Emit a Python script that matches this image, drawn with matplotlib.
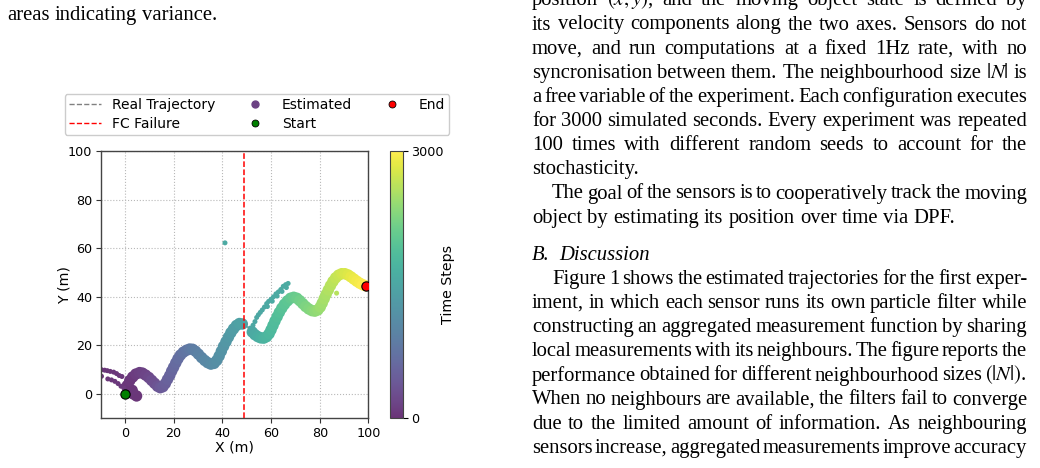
import numpy as np
import matplotlib
matplotlib.use("Agg")
import matplotlib.pyplot as plt
from matplotlib.colors import ListedColormap, Normalize
from matplotlib.lines import Line2D

# ---------------- data ----------------
# main estimated band: time step, x, y
est_t = [15, 20, 25, 35, 40, 30, 50, 70, 95, 120, 150, 180, 220, 260, 300, 350, 400, 440, 480,
         510, 540, 570, 600, 630, 660, 700, 740, 780, 820, 860, 900, 940, 980, 1020, 1050,
         1080, 1110, 1140, 1170, 1200, 1230, 1260, 1290, 1320, 1350, 1380, 1410, 1440,
         1530, 1570, 1610, 1650, 1690, 1730, 1760, 1790, 1820, 1850, 1880, 1910, 1940, 1970,
         2000, 2040, 2080, 2120, 2160, 2200, 2240, 2280, 2320, 2360, 2400, 2440, 2470, 2500,
         2530, 2560, 2590, 2620, 2650, 2690, 2730, 2770, 2810, 2850, 2890, 2920, 2950, 2980, 3000]
est_x = [1.5, 2.5, 3.5, 4.8, 3.0, 1.0, 2.0, 3.2, 4.5, 6.0, 7.2, 8.5, 9.8, 11.0, 12.2, 13.4, 14.5, 15.6, 16.6,
         17.5, 18.4, 19.2, 20.0, 20.9, 21.8, 22.8, 24.0, 25.3, 26.6, 27.8, 29.0, 30.2, 31.5, 32.8, 34.0,
         35.3, 36.6, 37.7, 38.7, 39.6, 40.5, 41.5, 42.5, 43.5, 44.6, 45.8, 47.0, 48.2,
         52.3, 53.4, 54.6, 55.8, 57.0, 58.2, 59.2, 60.0, 60.8, 61.6, 62.5, 63.4, 64.4, 65.5,
         66.7, 68.0, 69.3, 70.6, 71.8, 73.0, 74.2, 75.5, 76.8, 78.0, 79.2, 80.2, 81.0, 81.8,
         82.6, 83.5, 84.4, 85.4, 86.5, 87.7, 89.0, 90.3, 91.6, 92.8, 94.0, 95.2, 96.4, 97.6, 98.6]
est_y = [2.0, 0.8, 0.0, -0.8, 1.5, 3.5, 5.5, 7.0, 8.2, 8.8, 8.6, 7.8, 6.8, 5.6, 4.4, 3.2, 2.6, 3.0, 4.3,
         6.0, 7.6, 9.4, 11.0, 12.8, 14.5, 16.0, 17.2, 18.0, 18.5, 18.4, 17.6, 16.4, 15.0, 13.8, 12.9,
         12.3, 12.6, 13.8, 15.6, 17.6, 19.6, 21.5, 23.4, 25.2, 26.8, 28.2, 29.0, 28.8,
         25.5, 24.4, 23.6, 23.1, 23.0, 23.6, 24.8, 26.4, 28.2, 30.0, 31.8, 33.6, 35.3, 36.9,
         38.3, 39.4, 39.8, 39.4, 38.4, 37.2, 36.0, 35.0, 34.3, 34.1, 34.6, 35.8, 37.4, 39.2,
         41.0, 42.8, 44.6, 46.3, 47.8, 48.9, 49.5, 49.5, 49.0, 48.2, 47.3, 46.4, 45.6, 45.0, 44.6]

# sparse estimates (outliers / diverging sensors)
out_t = [20, 25, 30, 35, 40, 45, 50, 55,
         20, 30, 40, 50, 60, 70, 80,
         1500, 1505, 1510, 1515, 1520, 1525, 1530, 1535, 1540, 1545, 1550, 1555, 1560,
         1565, 1570, 1575, 1580, 1585, 1540, 1550, 1560, 1570, 1580,
         1550, 2600]
out_x = [-9.6, -8.3, -7.2, -6.0, -4.6, -3.4, -2.3, -1.2,
         -9.6, -7.0, -5.5, -4.1, -2.8, -1.6, -0.4,
         51.4, 52.6, 53.4, 54.1, 54.8, 55.6, 56.4, 57.3, 58.2, 59.0, 60.0, 61.0, 62.0,
         63.0, 64.0, 65.0, 66.0, 67.0, 58.5, 60.5, 62.5, 64.5, 66.3,
         41.1, 86.9]
out_y = [10.0, 9.8, 9.6, 9.3, 9.0, 8.4, 7.6, 7.2,
         7.3, 6.2, 5.8, 5.2, 4.3, 3.2, 2.4,
         27.1, 28.3, 29.8, 31.5, 32.6, 33.6, 34.6, 35.8, 37.2, 38.1, 39.0, 40.0, 41.2,
         42.0, 43.0, 44.3, 45.0, 45.5, 36.0, 38.2, 40.3, 42.2, 43.8,
         62.2, 41.5]

# real trajectory
real_x = [0, 1, 4, 6.5, 10, 14.5, 17, 20, 23, 27, 31, 35.5, 38.5, 42, 45, 47.8, 49.5, 51.5,
          53.5, 57, 59.5, 62, 65.5, 69.3, 73, 78, 80.5, 84.5, 87.7, 90.3, 94, 98.6]
real_y = [0, 4, 8, 8.8, 6.6, 2.6, 5, 11, 16.3, 18.6, 15.4, 12.3, 15.3, 22.5, 27.3, 29, 28.2, 26.6,
          24.3, 23, 25.5, 31, 37, 39.8, 37.2, 34.1, 36.5, 44.6, 48.9, 49.5, 47.3, 44.6]

fc_failure_x = 48.9
start_xy = (0.0, 0.0)
end_xy = (99.1, 44.5)
t_max = 3000

# ---------------- figure ----------------
W, H = 1040, 468
plt.rcParams['mathtext.fontset'] = 'stix'
fig = plt.figure(figsize=(W / 100, H / 100), dpi=100)

base = plt.get_cmap('viridis')(np.linspace(0, 1, 256))
base[:, :3] = base[:, :3] * 0.8 + 0.2
cmap = ListedColormap(base)
norm = Normalize(0, t_max)

ax = fig.add_axes([100.5 / W, 1 - 418.3 / H, 268 / W, 267.3 / H])
ax.set_xlim(-10, 100)
ax.set_ylim(-10, 100)
ax.grid(True, ls=':', color='#b8b8b8', lw=0.8)
ax.set_axisbelow(True)

ax.plot(real_x, real_y, ls='--', color='gray', lw=1.0, zorder=1)
sc = ax.scatter(est_x, est_y, c=est_t, cmap=cmap, norm=norm, s=68, linewidths=0, zorder=2)
ax.scatter(out_x, out_y, c=out_t, cmap=cmap, norm=norm, s=13, linewidths=0, zorder=2)
ax.axvline(fc_failure_x, color='red', ls='--', lw=1.1, zorder=3)
ax.scatter([start_xy[0]], [start_xy[1]], s=45, color='green', edgecolors='black', linewidths=0.8, zorder=4)
ax.scatter([end_xy[0]], [end_xy[1]], s=45, color='red', edgecolors='black', linewidths=0.8, zorder=4)

ax.set_xticks([0, 20, 40, 60, 80, 100])
ax.set_yticks([0, 20, 40, 60, 80, 100])
ax.tick_params(labelsize=9.2, color='#333333', pad=2.5)
for s in ax.spines.values():
    s.set_color('#444444')
    s.set_linewidth(1.0)
ax.set_xlabel('X (m)', fontsize=10.2, labelpad=0.5)
ax.set_ylabel('Y (m)', fontsize=10.2, labelpad=-2.5)

cax = fig.add_axes([390 / W, 1 - 418.3 / H, 13.3 / W, 267.3 / H])
cb = fig.colorbar(sc, cax=cax, ticks=[0, t_max])
cb.ax.tick_params(labelsize=9.2, pad=2)
cb.set_label('Time Steps', fontsize=10.2, labelpad=-2)
cb.outline.set_edgecolor('#444444')

purple = cmap(0.05)
handles = [
    Line2D([], [], color='gray', ls='--', lw=1.0),
    Line2D([], [], color='red', ls='--', lw=1.0),
    Line2D([], [], ls='', marker='o', color=purple, markersize=5),
    Line2D([], [], ls='', marker='o', color='green', mec='black', mew=0.6, markersize=5),
    Line2D([], [], ls='', marker='o', color='red', mec='black', mew=0.6, markersize=5),
]
labels = ['Real Trajectory', 'FC Failure', 'Estimated', 'Start', 'End']
fig.legend(handles, labels, loc='center', bbox_to_anchor=(257 / W, 1 - 114.5 / H), ncol=3,
           fontsize=10, handlelength=2.3, handletextpad=0.8, columnspacing=1.7,
           labelspacing=0.35, borderpad=0.3, borderaxespad=0, framealpha=1, edgecolor='#cccccc')

# ---------------- surrounding page text ----------------
renderer = fig.canvas.get_renderer()
SERIF = 'Liberation Serif'


def make_words(words, fs, style='normal'):
    ts = [fig.text(0, 0, w, fontsize=fs, family=SERIF, style=style, va='baseline', ha='left')
          for w in words]
    ws = [t.get_window_extent(renderer).width for t in ts]
    return ts, ws


# calibrate font size from an unjustified line of known width
probe = fig.text(0, 0, 'object by estimating its position over time via DPF.', fontsize=10, family=SERIF)
pw = probe.get_window_extent(renderer).width
probe.remove()
FS = 10 * 425.0 / pw


def draw_line(text, x0, x1, yb, justify=True, style='normal'):
    words = text.split(' ')
    ts, ws = make_words(words, FS, style)
    space = 0.25 * FS * 100 / 72
    if justify and len(words) > 1:
        gap = (x1 - x0 - sum(ws)) / (len(words) - 1)
    else:
        gap = space
    x = x0
    for t, w in zip(ts, ws):
        t.set_position((x / W, 1 - yb / H))
        x += w + gap


RX0, RX1, IND = 532, 1027, 552
right_lines = [
    ("position $(x,y)$, and the moving object state is defined by", RX0, 5.3, True),
    ("its velocity components along the two axes. Sensors do not", RX0, 29.5, True),
    ("move, and run computations at a fixed 1Hz rate, with no", RX0, 53.8, True),
    ("syncronisation between them. The neighbourhood size $|N|$ is", RX0, 77.8, True),
    ("a free variable of the experiment. Each configuration executes", RX0, 101.8, True),
    ("for 3000 simulated seconds. Every experiment was repeated", RX0, 126.2, True),
    ("100 times with different random seeds to account for the", RX0, 150.2, True),
    ("stochasticity.", RX0, 174.2, False),
    ("The goal of the sensors is to cooperatively track the moving", IND, 198.5, True),
    ("object by estimating its position over time via DPF.", RX0, 222.8, False),
    ("Figure 1 shows the estimated trajectories for the first exper-", IND, 284.0, True),
    ("iment, in which each sensor runs its own particle filter while", RX0, 308.0, True),
    ("constructing an aggregated measurement function by sharing", RX0, 332.0, True),
    ("local measurements with its neighbours. The figure reports the", RX0, 356.0, True),
    ("performance obtained for different neighbourhood sizes $(|N|)$.", RX0, 380.5, True),
    ("When no neighbours are available, the filters fail to converge", RX0, 404.5, True),
    ("due to the limited amount of information. As neighbouring", RX0, 429.0, True),
    ("sensors increase, aggregated measurements improve accuracy", RX0, 453.0, True),
]
for txt, x0, yb, just in right_lines:
    draw_line(txt, x0, RX1, yb, justify=just)

fig.text(RX0 / W, 1 - 259.5 / H, 'B.', fontsize=FS, family=SERIF, style='italic', va='baseline')
fig.text(559.3 / W, 1 - 259.5 / H, 'Discussion', fontsize=FS, family=SERIF, style='italic', va='baseline')

draw_line("areas indicating variance.", 7, 0, 20.0, justify=False)

fig.savefig('out.png', dpi=100)
